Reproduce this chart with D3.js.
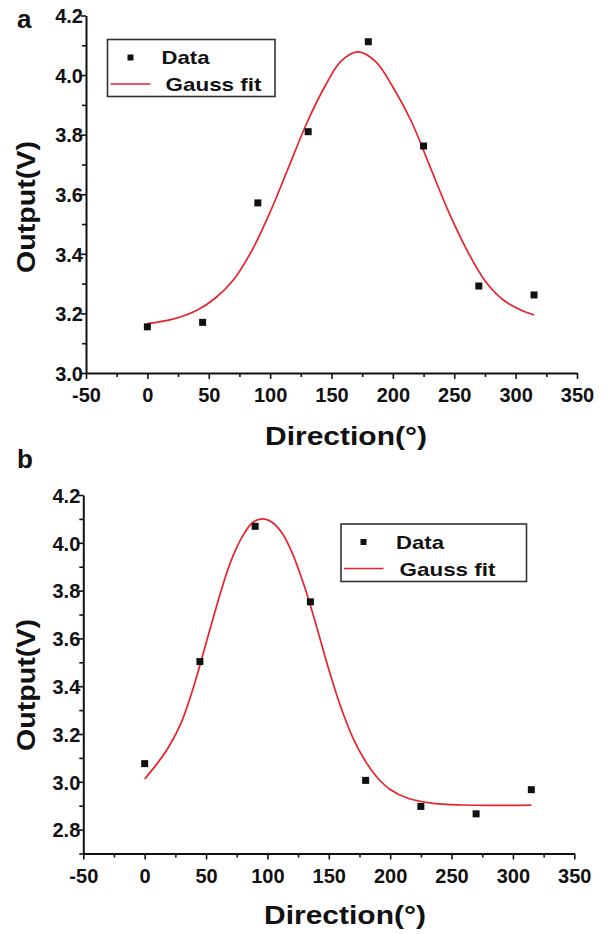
<!DOCTYPE html>
<html><head><meta charset="utf-8">
<script src="https://cdn.jsdelivr.net/npm/d3@7"></script>
<style>body{margin:0;background:#fff}svg{display:block}</style></head>
<body><svg id="c" width="607" height="934"></svg>
<script>
// Panel a data
const directionA = [0, 45, 90, 131, 180, 225, 270, 315];
const outputA = [3.155, 3.170, 3.571, 3.810, 4.112, 3.762, 3.292, 3.262];
const fitDirA = [0, 20, 40, 55, 70, 85, 100, 115, 130, 145, 158, 172, 186, 200, 215, 230, 245, 260, 275, 290, 305, 315];
const fitOutA = [3.166, 3.180, 3.210, 3.250, 3.312, 3.410, 3.540, 3.690, 3.840, 3.965, 4.048, 4.078, 4.045, 3.960, 3.845, 3.695, 3.545, 3.415, 3.310, 3.245, 3.210, 3.195];
// Panel b data
const directionB = [0, 45, 90, 135, 180, 225, 270, 315];
const outputB = [3.076, 3.503, 4.069, 3.753, 3.006, 2.897, 2.866, 2.967];
const fitDirB = [0, 10, 20, 30, 40, 50, 60, 70, 80, 88, 96, 104, 112, 120, 130, 140, 150, 160, 170, 180, 190, 200, 215, 235, 260, 290, 315];
const fitOutB = [3.012, 3.075, 3.150, 3.250, 3.400, 3.580, 3.760, 3.920, 4.030, 4.085, 4.100, 4.085, 4.040, 3.960, 3.820, 3.650, 3.470, 3.310, 3.180, 3.085, 3.015, 2.968, 2.930, 2.910, 2.903, 2.901, 2.902];
// Ticks
const xTicks = [-50, 0, 50, 100, 150, 200, 250, 300, 350];
const xMinor = [-25, 25, 75, 125, 175, 225, 275, 325];
const yTicksA = [3.0, 3.2, 3.4, 3.6, 3.8, 4.0, 4.2];
const yMinorA = [3.1, 3.3, 3.5, 3.7, 3.9, 4.1];
const yTicksB = [2.8, 3.0, 3.2, 3.4, 3.6, 3.8, 4.0, 4.2];
const yMinorB = [2.7, 2.9, 3.1, 3.3, 3.5, 3.7, 3.9, 4.1];
const legendLabels = ["Data", "Gauss fit"];
const xTitle = "Direction(\u00B0)";
const yTitle = "Output(V)";

const svg = d3.select("#c");
const tickFont = "'Liberation Sans', Arial, sans-serif";
const RED = "#e8232b";

function panel(cfg) {
  const g = svg.append("g");
  const x = d3.scaleLinear().domain([-50, 350]).range(cfg.xr);
  const y = d3.scaleLinear().domain(cfg.yd).range(cfg.yr);
  const x0 = cfg.xr[0], yb = cfg.yr[0];

  // minor ticks
  g.append("g").attr("transform", `translate(0,${yb})`)
    .call(d3.axisBottom(x).tickValues(xMinor).tickSize(4).tickSizeOuter(0).tickFormat(""))
    .call(a => a.select(".domain").remove());
  g.append("g").attr("transform", `translate(${x0},0)`)
    .call(d3.axisLeft(y).tickValues(cfg.yMinor).tickSize(4).tickSizeOuter(0).tickFormat(""))
    .call(a => a.select(".domain").remove());

  const xa = g.append("g").attr("transform", `translate(0,${yb})`)
    .call(d3.axisBottom(x).tickValues(xTicks).tickSize(6).tickSizeOuter(0).tickFormat(d => String(d)));
  xa.selectAll("text").attr("y", 29).attr("dy", 0);
  const ya = g.append("g").attr("transform", `translate(${x0},0)`)
    .call(d3.axisLeft(y).tickValues(cfg.yTicks).tickSize(5).tickSizeOuter(0).tickFormat(d => d.toFixed(1)));
  ya.selectAll("text").attr("x", -3).attr("dy", "0.36em");
  g.selectAll(".tick line").attr("stroke", "#111").attr("stroke-width", 1.6);
  g.selectAll(".domain").attr("stroke", "#111").attr("stroke-width", 2);
  g.selectAll(".tick text").attr("font-family", tickFont).attr("font-weight", "bold")
    .attr("font-size", 20).attr("fill", "#111");

  // axis titles
  g.append("text").attr("x", cfg.xTitle[0]).attr("y", cfg.xTitle[1])
    .attr("text-anchor", "middle").attr("font-family", tickFont).attr("font-weight", "bold")
    .attr("font-size", 25).attr("textLength", 162).attr("lengthAdjust", "spacingAndGlyphs")
    .attr("fill", "#111").text(xTitle);
  g.append("text").attr("transform", `translate(${cfg.yTitle[0]},${cfg.yTitle[1]}) rotate(-90)`)
    .attr("text-anchor", "middle").attr("font-family", tickFont).attr("font-weight", "bold")
    .attr("font-size", 26).attr("textLength", 132).attr("lengthAdjust", "spacingAndGlyphs")
    .attr("fill", "#111").text(yTitle);
  // panel letter
  g.append("text").attr("x", 17).attr("y", cfg.letterY).attr("font-family", tickFont)
    .attr("font-weight", "bold").attr("font-size", 26).attr("fill", "#111").text(cfg.letter);

  // fit curve
  const line = d3.line().x(d => x(d[0])).y(d => y(d[1])).curve(d3.curveCatmullRom.alpha(0.5));
  g.append("path").datum(cfg.fitX.map((d, i) => [d, cfg.fitY[i]]))
    .attr("d", line).attr("fill", "none").attr("stroke", RED).attr("stroke-width", 1.7);

  // data points
  g.selectAll("rect.pt").data(cfg.px.map((d, i) => [d, cfg.py[i]])).enter().append("rect")
    .attr("class", "pt").attr("x", d => x(d[0]) - 3.5).attr("y", d => y(d[1]) - 3.5)
    .attr("width", 7).attr("height", 7).attr("fill", "#111");

  // legend
  const L = cfg.leg;
  const lg = g.append("g").attr("transform", `translate(${L.x},${L.y})`);
  lg.append("rect").attr("x", 0).attr("y", 0).attr("width", L.w).attr("height", L.h)
    .attr("fill", "#fff").attr("stroke", "#333").attr("stroke-width", 1.6);
  lg.append("rect").attr("x", L.mx - 3).attr("y", 18 - 3).attr("width", 6).attr("height", 6).attr("fill", "#111");
  lg.append("line").attr("x1", 3).attr("x2", L.lx2).attr("y1", 44.5).attr("y2", 44.5)
    .attr("stroke", RED).attr("stroke-width", 1.6);
  lg.append("text").attr("x", L.t1).attr("y", 24.5).attr("font-family", tickFont).attr("font-weight", "bold")
    .attr("font-size", 19).attr("textLength", 48).attr("lengthAdjust", "spacingAndGlyphs").attr("fill", "#111").text(legendLabels[0]);
  lg.append("text").attr("x", L.t2).attr("y", 51.5).attr("font-family", tickFont).attr("font-weight", "bold")
    .attr("font-size", 19).attr("textLength", 96).attr("lengthAdjust", "spacingAndGlyphs").attr("fill", "#111").text(legendLabels[1]);
}

panel({
  xr: [86, 577], yd: [3.0, 4.2], yr: [373, 15.5],
  yTicks: yTicksA, yMinor: yMinorA,
  xTitle: [346, 445], yTitle: [35, 207], letter: "a", letterY: 28,
  fitX: fitDirA, fitY: fitOutA, px: directionA, py: outputA,
  leg: {x: 107.5, y: 39.5, w: 167.5, h: 57, mx: 23, lx2: 43, t1: 54, t2: 58}
});
panel({
  xr: [83.3, 574.3], yd: [2.7, 4.2], yr: [853.5, 495],
  yTicks: yTicksB, yMinor: yMinorB,
  xTitle: [345, 924], yTitle: [35, 685], letter: "b", letterY: 468,
  fitX: fitDirB, fitY: fitOutB, px: directionB, py: outputB,
  leg: {x: 341, y: 524, w: 185.5, h: 57.5, mx: 22.5, lx2: 42.5, t1: 55, t2: 58.5}
});
</script>
</body></html>
